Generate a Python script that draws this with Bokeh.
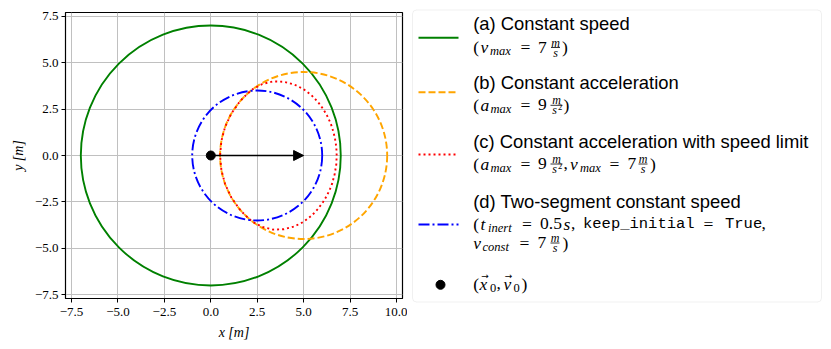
from bokeh.plotting import figure
from bokeh.models import Range1d, FixedTicker, Arrow, NormalHead, BoxAnnotation
from bokeh.layouts import row
from bokeh.core.properties import value
from bokeh.embed import file_html
from bokeh.resources import INLINE

# ---------------- data ----------------
# (a) constant speed: circle
a_center_x = [0.0]
a_center_y = [0.0]
a_radius = [7.0]
# (b) constant acceleration: circle
b_center_x = [5.0]
b_center_y = [0.0]
b_radius = [4.5]
# (d) two-segment constant speed: circle
d_center_x = [2.5]
d_center_y = [0.0]
d_radius = [3.5]
# (c) constant acceleration with speed limit: boundary
c_x = [6.78, 6.76, 6.72, 6.68, 6.53, 6.41, 6.25, 6.04, 5.77, 5.43, 5.00, 4.50, 3.94, 3.35,
       2.78, 2.29, 2.15, 1.82, 1.55, 1.10, 0.77, 0.57, 0.50,
       0.57, 0.77, 1.10, 1.55, 1.82, 2.15, 2.29, 2.78, 3.35, 3.94, 4.50, 5.00, 5.43, 5.77,
       6.04, 6.25, 6.41, 6.53, 6.68, 6.72, 6.76, 6.78]
c_y = [0.00, 0.47, 0.71, 0.97, 1.53, 1.83, 2.17, 2.52, 2.88, 3.24, 3.57, 3.82, 3.97, 3.99,
       3.85, 3.59, 3.48, 3.18, 2.89, 2.25, 1.54, 0.78, 0.00,
       -0.78, -1.54, -2.25, -2.89, -3.18, -3.48, -3.59, -3.85, -3.99, -3.97, -3.82, -3.57,
       -3.24, -2.88, -2.52, -2.17, -1.83, -1.53, -0.97, -0.71, -0.47, 0.00]
# initial state
start_x = [0.0]
start_y = [0.0]
start_vx = 5.0
start_vy = 0.0

x_ticks = [-7.5, -5.0, -2.5, 0.0, 2.5, 5.0, 7.5, 10.0]
x_tick_labels = ["\u22127.5", "\u22125.0", "\u22122.5", "0.0", "2.5", "5.0", "7.5", "10.0"]
y_ticks = [-7.5, -5.0, -2.5, 0.0, 2.5, 5.0, 7.5]
y_tick_labels = ["\u22127.5", "\u22125.0", "\u22122.5", "0.0", "2.5", "5.0", "7.5"]

legend_titles = ["(a) Constant speed", "(b) Constant acceleration",
                 "(c) Constant acceleration with speed limit", "(d) Two-segment constant speed"]

# ---------------- main plot ----------------
FL, FT, FW, FH, FR = 65, 12, 337, 286, 5
p = figure(frame_width=FW, frame_height=FH,
           x_range=Range1d(-7.825, 10.325), y_range=Range1d(-7.7, 7.7),
           output_backend="svg", toolbar_location=None,
           min_border_left=FL, min_border_right=FR, min_border_top=FT, min_border_bottom=49,
           x_axis_label="x [m]", y_axis_label="y [m]")
p.frame_align = False
p.outline_line_color = "black"
p.outline_line_width = 1.2
p.background_fill_color = "white"

p.xaxis.ticker = FixedTicker(ticks=x_ticks)
p.yaxis.ticker = FixedTicker(ticks=y_ticks)
p.xaxis.major_label_overrides = {t: l for t, l in zip(x_ticks, x_tick_labels)}
p.yaxis.major_label_overrides = {t: l for t, l in zip(y_ticks, y_tick_labels)}
for ax in (p.xaxis[0], p.yaxis[0]):
    ax.major_label_text_font = "Liberation Serif"
    ax.major_label_text_font_size = "13px"
    ax.major_label_text_color = "black"
    ax.axis_label_text_font = "Liberation Serif"
    ax.axis_label_text_font_size = "14px"
    ax.axis_label_text_font_style = "italic"
    ax.axis_label_text_color = "black"
    ax.major_tick_out = 4
    ax.major_tick_in = 0
    ax.minor_tick_line_color = None
    ax.major_tick_line_color = "black"
    ax.axis_line_color = "black"
p.xaxis.major_label_standoff = 5
p.yaxis.major_label_standoff = 3
p.xaxis.axis_label_standoff = 6
p.yaxis.axis_label_standoff = 6

p.xgrid.ticker = FixedTicker(ticks=x_ticks)
p.ygrid.ticker = FixedTicker(ticks=y_ticks)
p.grid.grid_line_color = "#c0c0c0"
p.grid.grid_line_width = 1

lw = 1.9
p.circle(x=a_center_x, y=a_center_y, radius=a_radius, fill_color=None,
         line_color="green", line_width=lw)
p.circle(x=b_center_x, y=b_center_y, radius=b_radius, fill_color=None,
         line_color="orange", line_width=lw, line_dash="7 3")
p.line(c_x, c_y, line_color="red", line_width=lw, line_dash="2 3")
p.circle(x=d_center_x, y=d_center_y, radius=d_radius, fill_color=None,
         line_color="blue", line_width=lw, line_dash="11 3 2 3")
p.add_layout(Arrow(end=NormalHead(size=10, fill_color="black", line_color="black"),
                   x_start=start_x[0], y_start=start_y[0],
                   x_end=start_x[0] + start_vx, y_end=start_y[0] + start_vy,
                   line_color="black", line_width=1.5))
p.scatter(start_x, start_y, size=9, color="black")

# ---------------- legend panel ----------------
OX, OY = FL + FW + FR, 0  # page offset of the legend panel
LW, LH = 831 - OX - 2, FT + FH + 49
leg = figure(width=LW, height=LH, x_range=Range1d(0, LW), y_range=Range1d(LH, 0),
             output_backend="svg", toolbar_location=None, min_border=0,
             x_axis_type=None, y_axis_type=None)
leg.frame_align = False
leg.grid.visible = False
leg.outline_line_color = None

leg.add_layout(BoxAnnotation(left=412 - OX, right=821 - OX, top=9.5 - OY, bottom=301.5 - OY,
                             fill_color="white", fill_alpha=1, line_color="#cccccc",
                             line_width=1, border_radius=4, level="underlay"))

sx = [418 - OX, 458 - OX]
leg.line(sx, [37.3 - OY] * 2, line_color="green", line_width=lw)
leg.line(sx, [91.7 - OY] * 2, line_color="orange", line_width=lw, line_dash="7 3")
leg.line(sx, [154 - OY] * 2, line_color="red", line_width=lw, line_dash="2 3")
leg.line(sx, [224 - OY] * 2, line_color="blue", line_width=lw, line_dash="11 3 2 3")
leg.scatter([440 - OX], [284.3 - OY], size=9, color="black")

DY = -2  # small vertical nudge of all legend text
STY = {
    "sans": ("Liberation Sans", "18.4px", "normal", 0, "left"),
    "rm": ("Liberation Serif", "17.5px", "normal", 0, "left"),
    "it": ("Liberation Serif", "17.5px", "italic", 0, "left"),
    "sub": ("Liberation Serif", "12.5px", "italic", 4, "left"),
    "subrm": ("Liberation Serif", "12.5px", "normal", 4, "left"),
    "num": ("Liberation Serif", "12px", "italic", -4.5, "center"),
    "den": ("Liberation Serif", "12px", "italic", 5.5, "center"),
    "sup": ("Liberation Serif", "8.5px", "normal", 2, "left"),
    "tt": ("Liberation Mono", "15.5px", "normal", 0, "left"),
    "vec": ("DejaVu Sans", "9px", "normal", -8, "center"),
}
groups = {k: {"x": [], "y": [], "t": []} for k in STY}
bars_x0, bars_x1, bars_y = [], [], []


def put(style, txt, px, cy):
    g = groups[style]
    g["x"].append(px - OX)
    g["y"].append(cy - OY + STY[style][3] + DY)
    g["t"].append(txt)


def frac(px, cy, w, sq=False):
    if sq:
        put("num", "m", px + w / 2, cy)
        put("den", "s", px + w / 2 - 2, cy)
        put("sup", "2", px + w / 2 + 1.5, cy)
    else:
        put("num", "m", px + w / 2, cy)
        put("den", "s", px + w / 2, cy)
    bars_x0.append(px - OX)
    bars_x1.append(px + w - OX)
    bars_y.append(cy + 0.5 - OY + DY)


TX = 472.7
# titles
for title, cy in zip(legend_titles, [25, 84, 143.3, 203.3]):
    put("sans", title, TX, cy)

# (a)
cy = 48.5
put("rm", "(", TX, cy); put("it", "v", 480, cy); put("sub", "max", 489.5, cy)
put("rm", "=", 520, cy); put("rm", "7", 537.5, cy); frac(550.5, cy, 9); put("rm", ")", 561.5, cy)
# (b)
cy = 106.3
put("rm", "(", TX, cy); put("it", "a", 480, cy); put("sub", "max", 490, cy)
put("rm", "=", 520, cy); put("rm", "9", 537.5, cy); frac(550, cy, 12, sq=True); put("rm", ")", 563, cy)
# (c)
cy = 165
put("rm", "(", TX, cy); put("it", "a", 480, cy); put("sub", "max", 490, cy)
put("rm", "=", 520, cy); put("rm", "9", 537.5, cy); frac(550, cy, 12, sq=True)
put("rm", ",", 563, cy); put("it", "v", 569.5, cy); put("sub", "max", 579.5, cy)
put("rm", "=", 609, cy); put("rm", "7", 627, cy); frac(638, cy, 9); put("rm", ")", 649.5, cy)
# (d) line 1
cy = 225
put("rm", "(", TX, cy); put("it", "t", 480, cy); put("sub", "inert", 487.5, cy)
put("rm", "=", 521.5, cy); put("rm", "0.5", 539.5, cy); put("it", "s", 563, cy)
put("rm", ",", 570.5, cy); put("tt", "keep_initial", 582.5, cy)
put("rm", "=", 703, cy); put("tt", "True", 724.5, cy); put("rm", ",", 761, cy)
# (d) line 2
cy = 244
put("it", "v", TX, cy); put("sub", "const", 482, cy)
put("rm", "=", 519, cy); put("rm", "7", 537, cy); frac(550, cy, 9); put("rm", ")", 562, cy)
# (e)
cy = 285
put("rm", "(", TX, cy); put("it", "x", 479, cy); put("vec", "\u2192", 484.5, cy)
put("subrm", "0", 489.5, cy); put("rm", ",", 496, cy)
put("it", "v", 503, cy); put("vec", "\u2192", 508, cy)
put("subrm", "0", 513, cy); put("rm", ")", 521, cy)

for k, g in groups.items():
    if not g["t"]:
        continue
    font, size, fstyle, _, align = STY[k]
    leg.text(x=g["x"], y=g["y"], text=g["t"], text_font=value(font),
             text_font_size=value(size), text_font_style=fstyle,
             text_align=align, text_baseline="middle", text_color="black")

leg.segment(x0=bars_x0, y0=bars_y, x1=bars_x1, y1=bars_y, line_color="black", line_width=0.8)

layout = row(p, leg)
open("out.html", "w").write(file_html(layout, INLINE))
